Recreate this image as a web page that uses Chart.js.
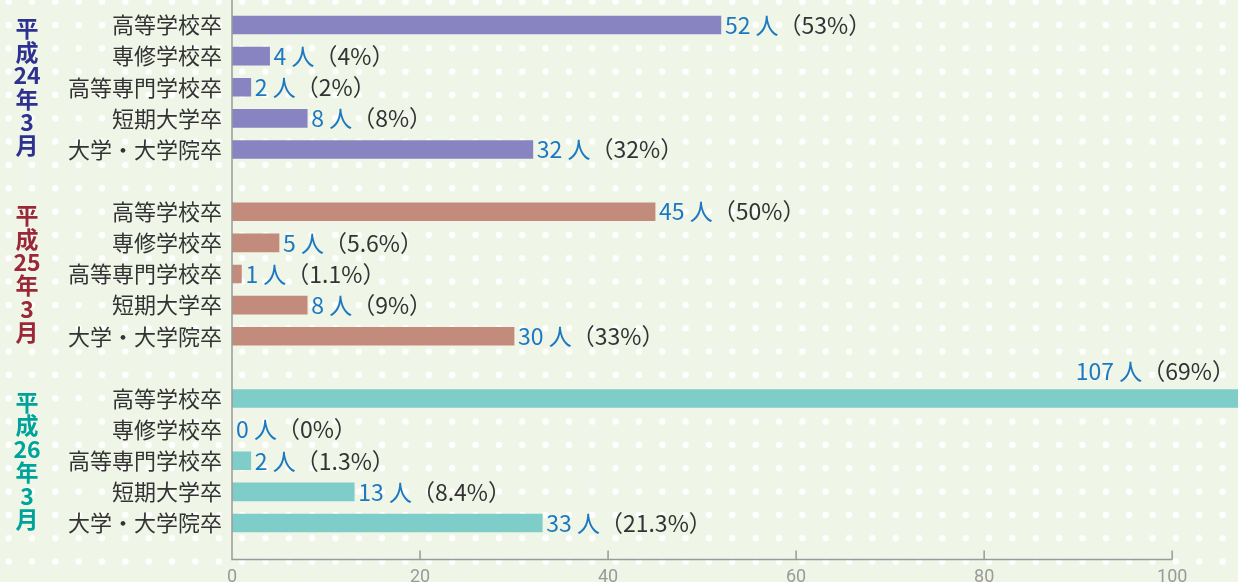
<!DOCTYPE html>
<html>
<head>
<meta charset="utf-8">
<script src="https://cdn.jsdelivr.net/npm/chart.js@4"></script>
<style>
  html, body { margin: 0; padding: 0; }
  body {
    width: 1238px; height: 582px; overflow: hidden;
    background-color: #eff5e7;
    background-image: radial-gradient(circle, #ffffff 3px, rgba(255,255,255,0) 3.6px);
    background-size: 23.35px 23.33px;
    background-position: -3px -10px;
  }
  #wrap { position: relative; width: 1238px; height: 582px; }
</style>
</head>
<body>
<div id="wrap"><canvas id="gradChart"></canvas></div>
<script>
// 卒業者の内訳（人数・割合）
const categories = ['高等学校卒', '専修学校卒', '高等専門学校卒', '短期大学卒', '大学・大学院卒'];
const years = ['平成24年3月', '平成25年3月', '平成26年3月'];

const counts24 = [52, 4, 2, 8, 32];
const pct24 = ['53%', '4%', '2%', '8%', '32%'];
const counts25 = [45, 5, 1, 8, 30];
const pct25 = ['50%', '5.6%', '1.1%', '9%', '33%'];
const counts26 = [107, 0, 2, 13, 33];
const pct26 = ['69%', '0%', '1.3%', '8.4%', '21.3%'];

const xTicks = [0, 20, 40, 60, 80, 100];

const barColors = ['#8883c1', '#c38b7c', '#7ecdc9'];
const yearColors = ['#2e3190', '#9b2838', '#00a39a'];
const countColor = '#1c78c0';
const pctColor = '#333333';

const allCounts = [counts24, counts25, counts26];
const allPct = [pct24, pct25, pct26];

// 17行: 5カテゴリ + 空行 + 5 + 空行 + 5
const rowLabels = [];
years.forEach((y, g) => {
    if (g > 0) rowLabels.push('');
    categories.forEach(c => rowLabels.push(c));
});

const datasets = allCounts.map((counts, g) => {
    const data = new Array(rowLabels.length).fill(null);
    counts.forEach((v, i) => { data[g * 6 + i] = v; });
    return {
        label: years[g],
        data: data,
        backgroundColor: barColors[g],
        borderWidth: 0,
        barThickness: 18,
        grouped: false
    };
});

const labelFont = '23px "Noto Sans CJK JP", "Noto Sans", sans-serif';

const decor = {
    id: 'decor',
    afterDatasetsDraw(chart) {
        const ctx = chart.ctx;
        const xs = chart.scales.x;
        const ys = chart.scales.y;
        const axisY = chart.chartArea.bottom + 21;
        const x0 = xs.getPixelForValue(0);

        ctx.save();
        // 軸線
        ctx.strokeStyle = '#9a9a9a';
        ctx.lineWidth = 1.5;
        ctx.beginPath();
        ctx.moveTo(x0, 0);
        ctx.lineTo(x0, axisY);
        ctx.lineTo(xs.getPixelForValue(xTicks[xTicks.length - 1]), axisY);
        xTicks.slice(1).forEach(v => {
            const px = xs.getPixelForValue(v);
            ctx.moveTo(px, axisY);
            ctx.lineTo(px, axisY - 9);
        });
        ctx.stroke();

        // 値ラベル
        ctx.font = labelFont;
        ctx.textBaseline = 'middle';
        ctx.textAlign = 'left';
        chart.data.datasets.forEach((ds, g) => {
            const meta = chart.getDatasetMeta(g);
            meta.data.forEach((bar, i) => {
                const v = ds.data[i];
                if (v === null) return;
                const idx = i - g * 6;
                const t1 = v + ' 人';
                const t2 = '（' + allPct[g][idx] + '）';
                const w1 = ctx.measureText(t1).width;
                const w2 = ctx.measureText(t2).width;
                let lx = bar.x + 4;
                let ly = bar.y;
                if (lx + w1 + w2 > chart.width) {
                    lx = chart.width - 3 - w1 - w2;
                    ly = bar.y - 27;
                }
                ctx.fillStyle = countColor;
                ctx.fillText(t1, lx, ly);
                ctx.fillStyle = pctColor;
                ctx.fillText(t2, lx + w1, ly);
            });
        });

        // 年度ラベル（縦書き）
        ctx.textAlign = 'center';
        ctx.font = 'bold 23px "Noto Sans CJK JP", "Noto Sans", sans-serif';
        years.forEach((y, g) => {
            const mid = ys.getPixelForValue(g * 6 + 2);
            const parts = y.match(/\d+|./g);
            ctx.fillStyle = yearColors[g];
            parts.forEach((p, k) => {
                ctx.fillText(p, 27, mid + (k - (parts.length - 1) / 2) * 23.4);
            });
        });
        ctx.restore();
    }
};

const ctx = document.getElementById('gradChart').getContext('2d');
window.gradChart = new Chart(ctx, {
    type: 'bar',
    data: {
        labels: rowLabels,
        datasets: datasets
    },
    options: {
        indexAxis: 'y',
        responsive: true,
        maintainAspectRatio: false,
        animation: false,
        layout: { padding: { top: 9.4, right: 0, bottom: 0, left: 0 } },
        plugins: {
            legend: { display: false },
            tooltip: { enabled: false }
        },
        scales: {
            x: {
                type: 'linear',
                min: 0,
                max: 107,
                grid: { display: false, drawTicks: false },
                border: { display: false },
                afterBuildTicks: (scale) => {
                    scale.ticks = xTicks.map(v => ({ value: v }));
                },
                afterFit: (scale) => {
                    scale.height = 43.4;
                    scale.paddingLeft = 0;
                    scale.paddingRight = 0;
                },
                ticks: {
                    padding: 28,
                    color: '#9a9a9a',
                    font: { family: 'Roboto, "Noto Sans", sans-serif', size: 18 }
                }
            },
            y: {
                grid: { display: false, drawTicks: false },
                border: { display: false },
                afterFit: (scale) => {
                    scale.width = 232;
                    scale.paddingTop = 0;
                    scale.paddingBottom = 0;
                },
                ticks: {
                    autoSkip: false,
                    padding: 10,
                    color: '#333333',
                    font: { family: '"Noto Sans CJK JP", "Noto Sans", sans-serif', size: 22 }
                }
            }
        }
    },
    plugins: [decor]
});
</script>
</body>
</html>
